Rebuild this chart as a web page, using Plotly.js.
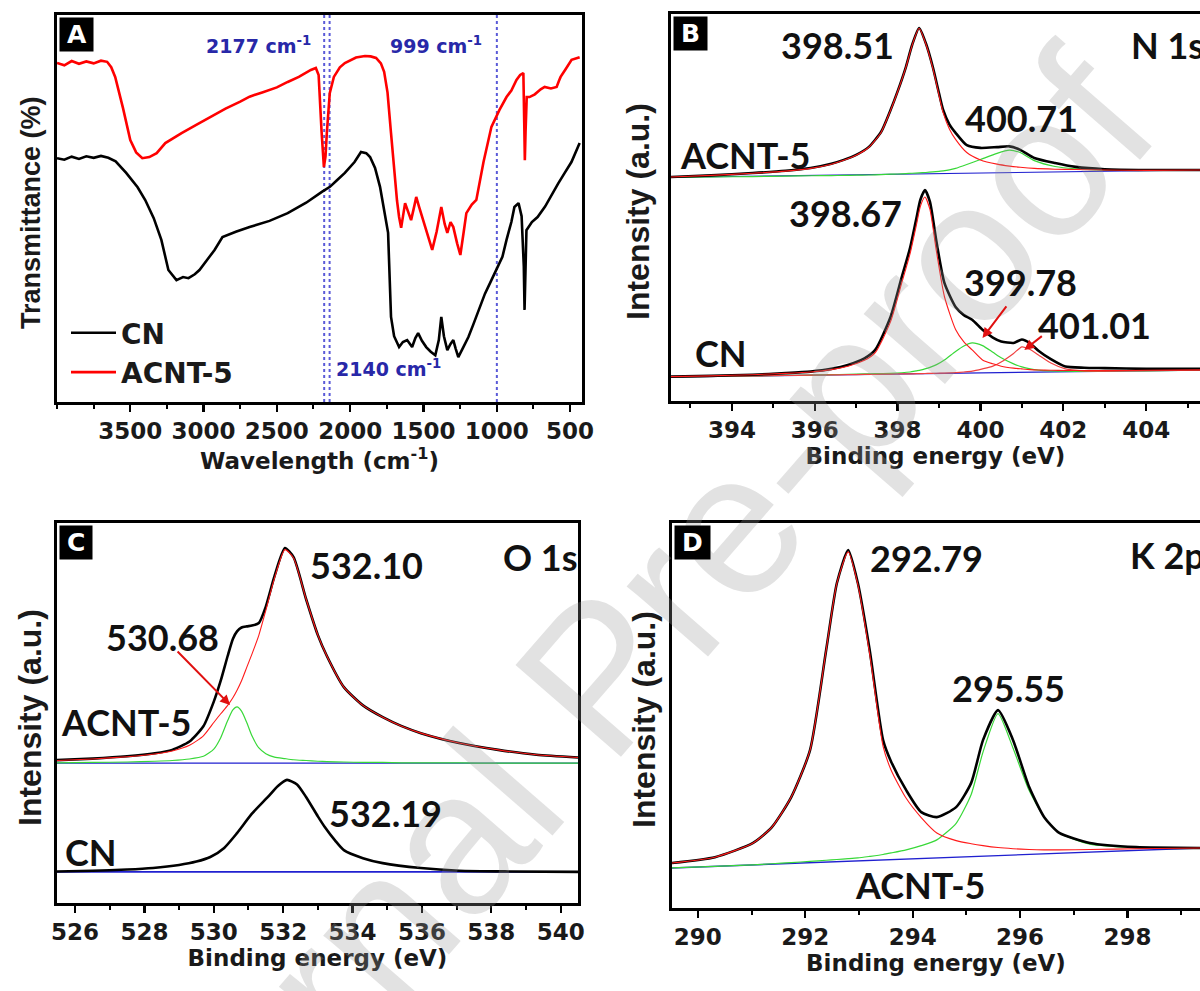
<!DOCTYPE html>
<html><head><meta charset="utf-8">
<script src="https://cdn.plot.ly/plotly-3.0.1.min.js"></script>
<style>html,body{margin:0;padding:0;background:#fff}#chart{width:1200px;height:991px}</style>
</head><body><div id="chart"></div>
<script>
// ---------- Panel A : FTIR ----------
const ftirWaveCN = [4000,3950,3900,3850,3800,3750,3700,3650,3600,3528,3450,3398,3340,3288,3240,3185,3140,3103,3060,3028,2970,2925,2871,2780,2686,2550,2426,2300,2193,2138,2090,2036,1970,1926,1890,1864,1830,1796,1770,1741,1721,1700,1666,1640,1611,1590,1577,1555,1536,1510,1481,1450,1419,1395,1378,1360,1337,1315,1296,1280,1262,1230,1193,1160,1118,1080,1036,1000,961,933,900,879,851,830,815,810,805,797,760,721,670,619,580,536,490,434];
const ftirCN = [63.0,62.6,63.4,62.8,63.5,63.1,63.6,63.1,62.2,59.2,55.5,52.2,47.5,41.9,34.1,31.5,32.3,32.0,33.0,34.1,37.0,39.3,42.6,44.0,45.2,46.8,48.8,51.5,54.3,55.6,57.3,59.2,62.0,64.6,64.3,63.3,60.5,55.6,50.0,43.7,22.0,17.0,14.2,15.5,16.0,14.8,14.2,16.5,17.8,15.8,14.2,13.0,12.1,16.0,22.0,17.0,13.4,15.0,16.0,13.8,11.6,14.0,16.8,20.0,24.5,28.0,31.5,34.5,37.5,41.9,46.5,50.4,51.4,48.0,35.0,23.8,33.0,44.4,46.5,47.8,50.5,54.0,56.5,59.2,62.0,66.9];
const ftirWaveACNT = [4000,3950,3900,3850,3800,3750,3700,3658,3630,3603,3550,3500,3460,3418,3370,3320,3261,3150,3050,2953,2850,2750,2686,2600,2500,2426,2350,2268,2234,2215,2207,2195,2179,2168,2159,2139,2111,2070,2036,1960,1899,1860,1823,1790,1768,1745,1721,1700,1680,1666,1652,1625,1605,1584,1560,1549,1530,1508,1470,1440,1410,1378,1355,1337,1315,1296,1270,1248,1225,1207,1170,1139,1090,1036,981,933,900,865,840,818,812,808,803,795,776,740,700,673,630,591,575,564,530,489,434];
const ftirACNT = [87.6,87.0,88.1,87.4,88.0,87.5,88.2,87.9,86.5,84.0,76.0,67.7,64.5,63.0,63.3,64.3,66.9,69.5,71.6,73.6,75.8,77.6,78.9,80.0,81.3,82.7,84.0,85.8,86.3,84.5,78.3,70.0,60.7,63.5,69.5,79.8,84.0,86.5,87.6,89.0,89.4,89.3,88.9,87.5,85.3,80.0,69.5,60.0,52.0,47.8,45.0,51.4,49.5,47.0,51.0,53.0,50.5,47.8,43.0,39.3,44.0,50.4,46.0,43.7,46.5,45.2,41.0,38.0,44.0,48.8,51.0,52.2,62.0,71.1,75.5,78.8,80.5,83.2,84.5,85.0,72.0,62.5,70.0,78.8,78.8,79.5,80.8,81.4,81.0,81.4,83.0,84.0,86.0,88.4,89.1];
const ftirMarkedBands = [2177, 2140, 999];
const ftirBandLabels = ['2177 cm<sup>-1</sup>', '2140 cm<sup>-1</sup>', '999 cm<sup>-1</sup>'];
const ftirTickVals = [3500,3000,2500,2000,1500,1000,500];

// ---------- Panel B : N 1s ----------
const n1sAcntE = [392.53,393.5,394.5,395.3,395.9,396.4,396.7,397.0,397.3,397.6,397.83,398.0,398.2,398.35,398.52,398.68,398.85,399.0,399.1,399.25,399.4,399.67,400.0,400.4,400.7,400.96,401.3,401.8,402.3,403.0,404.0,405.3];
const n1sAcntRaw = [57.9,58.3,58.9,59.5,60.2,61.3,62.3,63.6,65.6,69.5,75.2,80.0,86.3,92.0,96.4,92.5,86.3,79.5,75.2,71.5,69.3,66.1,65.4,65.6,65.8,64.9,62.8,61.5,60.5,59.9,59.7,59.7];
const n1sAcnt398 = [57.9,58.3,58.85,59.4,60.1,61.2,62.2,63.5,65.5,69.4,75.1,79.9,86.2,91.9,96.3,92.3,86.0,79.0,74.5,70.3,67.6,64.2,62.3,61.2,60.7,60.4,60.1,59.9,59.8,59.7,59.6,59.7];
const n1sAcnt400 = [57.8,57.9,58.0,58.1,58.2,58.25,58.3,58.35,58.4,58.5,58.6,58.65,58.75,58.85,58.95,59.05,59.2,59.35,59.45,59.7,60.1,61.1,62.4,64.0,64.8,64.2,62.1,60.6,60.0,59.7,59.6,59.7];
const n1sAcntBaseE = [392.53, 405.3];
const n1sAcntBase = [57.8, 59.7];

const n1sCnE = [392.53,393.5,394.5,395.3,395.9,396.4,396.8,397.2,397.46,397.83,398.1,398.3,398.45,398.55,398.66,398.78,398.94,399.13,399.4,399.6,399.8,400.05,400.3,400.5,400.8,401.0,401.2,401.4,401.7,402.05,402.5,403.0,404.0,405.3];
const n1sCnRaw = [6.3,6.5,6.8,7.2,7.6,8.3,9.3,11.0,13.2,21.7,32.0,39.5,47.0,52.0,54.5,51.5,41.0,30.5,24.3,22.2,21.0,18.4,16.4,15.4,15.0,15.9,14.9,13.0,10.8,8.9,8.6,8.5,8.3,8.3];
const n1sCn398 = [6.3,6.5,6.8,7.15,7.5,8.1,9.0,10.5,12.5,20.5,30.5,38.0,45.3,50.3,52.7,49.5,38.5,27.0,18.5,15.3,13.2,10.6,9.6,9.0,8.5,8.3,8.1,8.0,7.95,7.9,7.85,7.85,7.95,8.05];
const n1sCn399 = [6.2,6.35,6.5,6.6,6.7,6.8,6.9,7.0,7.05,7.15,7.3,7.5,7.8,8.0,8.3,8.7,9.4,10.6,12.8,14.2,15.0,14.3,12.6,11.2,9.6,8.8,8.3,8.0,7.8,7.7,7.65,7.7,7.8,8.0];
const n1sCn401 = [6.2,6.34,6.48,6.59,6.68,6.75,6.8,6.86,6.9,6.95,7.0,7.02,7.05,7.07,7.1,7.13,7.17,7.22,7.35,7.5,7.7,8.3,9.0,10.1,12.3,14.0,13.3,11.9,9.8,8.3,7.8,7.72,7.82,8.0];
const n1sCnBaseE = [392.53, 405.3];
const n1sCnBase = [6.2, 8.0];

// ---------- Panel C : O 1s ----------
const o1sAcntE = [525.48,526.5,527.5,528.3,528.8,529.3,529.7,530.0,530.2,530.4,530.55,530.67,530.8,530.95,531.1,531.3,531.5,531.75,532.05,532.3,532.66,533.0,533.26,533.75,534.3,534.87,535.4,535.97,537.07,538.2,539.3,540.5];
const o1sAcntRaw = [37.6,38.0,38.6,39.4,40.3,42.5,46.5,53.0,58.5,65.0,69.5,71.5,72.5,72.8,73.0,73.7,78.0,86.0,93.4,91.0,80.0,70.5,65.0,56.8,52.0,48.9,46.6,44.7,42.1,40.3,39.0,38.3];
const o1sAcnt532 = [37.5,37.9,38.5,39.2,40.0,41.5,44.0,47.5,49.8,52.0,54.0,56.0,58.5,62.0,65.5,70.5,77.0,85.5,93.0,90.8,80.0,70.5,65.0,56.8,52.0,48.9,46.6,44.7,42.1,40.3,39.0,38.3];
const o1sAcnt530 = [36.9,37.0,37.1,37.3,37.5,37.9,38.6,40.5,43.5,48.0,50.8,51.6,50.5,47.5,44.0,40.8,39.3,38.4,38.0,37.7,37.5,37.3,37.2,37.1,37.0,37.0,36.9,36.9,36.85,36.8,36.8,36.8];
const o1sAcntBaseE = [525.48, 540.5];
const o1sAcntBase = [36.8, 36.8];
const o1sCnE = [525.48,526.5,527.5,528.25,529.0,529.5,529.9,530.3,530.67,531.1,531.56,531.85,532.11,532.4,532.66,533.0,533.2,533.5,533.75,534.3,534.87,535.97,537.07,538.5,540.5];
const o1sCnRaw = [8.3,8.5,8.8,9.2,10.0,10.9,12.1,14.5,18.4,23.5,27.9,30.8,32.4,31.2,27.9,22.8,20.0,16.4,13.9,11.8,10.5,9.2,8.5,8.3,8.2];
const o1sCnBaseE = [525.48, 540.5];
const o1sCnBase = [8.2, 8.2];

// ---------- Panel D : K 2p ----------
const k2pE = [289.52,290.32,291.03,291.38,291.74,292.09,292.39,292.59,292.8,292.98,293.2,293.45,293.6,293.88,294.16,294.45,294.81,295.09,295.31,295.59,295.87,296.17,296.45,296.73,297.3,298.16,299.35];
const k2pRaw = [11.7,13.2,16.9,21.0,28.8,41.0,67.0,84.4,93.0,84.4,67.0,43.6,38.0,30.6,24.9,23.6,26.2,32.5,43.6,51.4,43.6,31.4,23.6,19.5,16.9,15.8,15.6];
const k2p292 = [11.7,13.2,16.9,21.0,28.8,41.0,67.0,84.4,92.5,84.0,66.0,42.0,35.8,28.5,23.5,19.5,17.5,16.7,16.2,15.7,15.4,15.2,15.1,15.1,15.2,15.4,15.6];
const k2p295 = [10.4,10.8,11.2,11.5,11.8,12.1,12.4,12.6,12.8,13.0,13.4,13.9,14.3,15.1,16.2,17.7,22.0,29.5,40.5,50.5,41.5,30.5,23.6,19.5,16.6,15.7,15.5];
const k2pBaseE = [289.52, 299.35];
const k2pBase = [10.4, 15.6];

// ---------- styling ----------
const FW = 'DejaVu Sans, Verdana, sans-serif';
const FT = 'Liberation Sans, Arial, sans-serif';
const FL = 'Lato, Carlito, sans-serif';
const BLACK = '#000000', RED = '#ff1a1a', GREEN = '#38d838', BLUE = '#2020d0', ORANGE = '#f04040';

function ln(x, y, xa, ya, color, width, name) {
  return {x: x, y: y, xaxis: xa, yaxis: ya, type: 'scatter', mode: 'lines',
    line: {color: color, width: width, shape: x.length > 2 ? 'spline' : 'linear', smoothing: 0.6},
    name: name, showlegend: false, hoverinfo: 'skip'};
}

const traces = [
  {x: ftirWaveCN, y: ftirCN, xaxis: 'x', yaxis: 'y', type: 'scatter', mode: 'lines', name: 'CN',
   line: {color: BLACK, width: 2.6}},
  {x: ftirWaveACNT, y: ftirACNT, xaxis: 'x', yaxis: 'y', type: 'scatter', mode: 'lines', name: 'ACNT-5',
   line: {color: '#ff0000', width: 2.6}},
  ln(n1sAcntBaseE, n1sAcntBase, 'x2', 'y2', BLUE, 1.2, 'baseline'),
  ln(n1sAcntE, n1sAcnt400, 'x2', 'y2', GREEN, 1.2, '400.71'),
  ln(n1sAcntE, n1sAcntRaw, 'x2', 'y2', BLACK, 2.6, 'ACNT-5 N 1s'),
  ln(n1sAcntE, n1sAcnt398, 'x2', 'y2', RED, 1.1, '398.51'),
  ln(n1sCnBaseE, n1sCnBase, 'x2', 'y2', BLUE, 1.2, 'baseline'),
  ln(n1sCnE, n1sCn399, 'x2', 'y2', GREEN, 1.2, '399.78'),
  ln(n1sCnE, n1sCn401, 'x2', 'y2', ORANGE, 1.2, '401.01'),
  ln(n1sCnE, n1sCnRaw, 'x2', 'y2', BLACK, 2.6, 'CN N 1s'),
  ln(n1sCnE, n1sCn398, 'x2', 'y2', RED, 1.1, '398.67'),
  ln(o1sAcntBaseE, o1sAcntBase, 'x3', 'y3', BLUE, 1.4, 'baseline'),
  ln(o1sAcntE, o1sAcnt530, 'x3', 'y3', GREEN, 1.2, '530.68'),
  ln(o1sAcntE, o1sAcntRaw, 'x3', 'y3', BLACK, 2.6, 'ACNT-5 O 1s'),
  ln(o1sAcntE, o1sAcnt532, 'x3', 'y3', RED, 1.1, '532.10'),
  ln(o1sCnBaseE, o1sCnBase, 'x3', 'y3', BLUE, 1.6, 'baseline'),
  ln(o1sCnE, o1sCnRaw, 'x3', 'y3', BLACK, 2.6, 'CN O 1s'),
  ln(k2pBaseE, k2pBase, 'x4', 'y4', BLUE, 1.4, 'baseline'),
  ln(k2pE, k2p295, 'x4', 'y4', GREEN, 1.2, '295.55'),
  ln(k2pE, k2pRaw, 'x4', 'y4', BLACK, 2.6, 'ACNT-5 K 2p'),
  ln(k2pE, k2p292, 'x4', 'y4', RED, 1.1, '292.79')
];

function xax(domain, range, dtick, minor, title, anchor, tickvals) {
  const a = {domain: domain, range: range, anchor: anchor, showline: true, linecolor: '#000', linewidth: 2.6,
    mirror: true, ticks: 'outside', ticklen: 7, tickwidth: 2.2, tickcolor: '#000', showgrid: false, zeroline: false,
    tickfont: {family: FW, size: 23, color: '#1a1a1a', weight: 'bold'},
    minor: {ticks: 'outside', ticklen: 4, tickwidth: 2, tickcolor: '#000', dtick: minor, showgrid: false},
    title: {text: title, font: {family: FW, size: 23, color: '#1a1a1a', weight: 'bold'}, standoff: 6}};
  if (tickvals) { a.tickmode = 'array'; a.tickvals = tickvals; } else { a.dtick = dtick; a.tick0 = 0; }
  return a;
}
function yax(domain, anchor, mirror) {
  return {domain: domain, range: [0, 100], anchor: anchor, showline: true, linecolor: '#000', linewidth: 2.6,
    mirror: mirror, ticks: '', showticklabels: false, showgrid: false, zeroline: false, fixedrange: true};
}

const W = 1200, H = 991;
const px = v => v / W, py = v => (H - v) / H;

const layout = {
  width: W, height: H, margin: {l: 0, r: 0, t: 0, b: 0}, paper_bgcolor: '#fff', plot_bgcolor: 'rgba(0,0,0,0)',
  showlegend: true,
  legend: {x: px(66), y: py(308), xanchor: 'left', yanchor: 'top', bgcolor: 'rgba(0,0,0,0)',
    font: {family: FW, size: 28, color: '#1a1a1a', weight: 'bold'}, itemwidth: 45, tracegroupgap: 0},
  xaxis: xax([px(57), px(582)], [4000, 418], null, 250, 'Wavelength (cm<sup>-1</sup>)', 'y', ftirTickVals),
  yaxis: yax([py(402), py(15)], 'x', true),
  xaxis2: xax([px(671), 1], [392.53, 405.3], 2, 1, 'Binding energy (eV)', 'y2'),
  yaxis2: yax([py(401), py(14)], 'x2', false),
  xaxis3: xax([px(57), px(578)], [525.48, 540.5], 2, 1, 'Binding energy (eV)', 'y3'),
  yaxis3: yax([py(903), py(523)], 'x3', true),
  xaxis4: xax([px(672), 1], [289.52, 299.35], 2, 1, 'Binding energy (eV)', 'y4'),
  yaxis4: yax([py(908), py(523)], 'x4', false),
  shapes: ftirMarkedBands.map(b => ({type: 'line', xref: 'x', yref: 'y domain', x0: b, x1: b, y0: 0, y1: 1,
    line: {color: '#5a5ad8', width: 2, dash: 'dot'}, layer: 'below'})),
  annotations: []
};
const ann = layout.annotations;
// watermark
ann.push({text: 'Journal Pre-proof', xref: 'paper', yref: 'paper', x: px(597), y: py(676), textangle: -49,
  xanchor: 'center', yanchor: 'middle', showarrow: false,
  font: {family: FT, size: 203, color: 'rgba(150,150,150,0.28)'}});
// panel letters
[['A','x','y'],['B','x2','y2'],['C','x3','y3'],['D','x4','y4']].forEach(([t, xa, ya]) => {
  ann.push({text: '<b>\u2009' + t + '\u2009</b>', xref: xa + ' domain', yref: ya + ' domain', x: 0.003, y: 0.995,
    xanchor: 'left', yanchor: 'top', showarrow: false, bgcolor: '#000', borderpad: 2,
    font: {family: FW, size: 25, color: '#fff'}});
});
// y titles
function ytitle(text, x, y, size) {
  ann.push({text: '<b>' + text + '</b>', xref: 'paper', yref: 'paper', x: px(x), y: py(y), textangle: -90,
    xanchor: 'center', yanchor: 'middle', showarrow: false, font: {family: FT, size: size, color: '#1a1a1a'}});
}
ytitle('Transmittance (%)', 31, 213, 27);
ytitle('Intensity (a.u.)', 638, 212, 32);
ytitle('Intensity (a.u.)', 30, 718, 32);
ytitle('Intensity (a.u.)', 644, 720, 32);
// FTIR band labels
function blue(text, x, y) {
  ann.push({text: '<b>' + text + '</b>', xref: 'x', yref: 'y', x: x, y: y, showarrow: false,
    xanchor: 'center', yanchor: 'middle', font: {family: FW, size: 19, color: '#2828a8'}});
}
blue(ftirBandLabels[0], 2623, 92.2);
blue(ftirBandLabels[2], 1416, 92.2);
blue(ftirBandLabels[1], 1737, 8.8);
// XPS labels
function lab(text, xa, ya, x, y, anchor) {
  ann.push({text: '<b>' + text + '</b>', xref: xa, yref: ya, x: x, y: y, xanchor: anchor || 'center',
    yanchor: 'middle', showarrow: false, font: {family: FL, size: 36, color: '#111'}});
}
lab('398.51', 'x2', 'y2', 396.55, 92);
lab('N 1s', 'x2', 'y2', 403.59, 92, 'left');
lab('400.71', 'x2', 'y2', 400.99, 73.1);
lab('ACNT-5', 'x2', 'y2', 394.34, 63.6);
lab('398.67', 'x2', 'y2', 396.75, 48.6);
lab('399.78', 'x2', 'y2', 400.96, 30.7);
lab('401.01', 'x2', 'y2', 402.75, 19.6);
lab('CN', 'x2', 'y2', 393.73, 12.4);
lab('532.10', 'x3', 'y3', 534.41, 88.9);
lab('O 1s', 'x3', 'y3', 539.43, 91);
lab('530.68', 'x3', 'y3', 528.51, 70);
lab('ACNT-5', 'x3', 'y3', 527.47, 47.6);
lab('532.19', 'x3', 'y3', 534.96, 23.7);
lab('CN', 'x3', 'y3', 526.46, 13.4);
lab('292.79', 'x4', 'y4', 294.25, 90.9);
lab('K 2p', 'x4', 'y4', 298.01, 91.7, 'left');
lab('295.55', 'x4', 'y4', 295.78, 57.1);
lab('ACNT-5', 'x4', 'y4', 294.14, 6.0);
// red arrows
function arrow(xa, ya, x, y, ax, ay) {
  ann.push({text: '', xref: xa, yref: ya, x: x, y: y, ax: ax, ay: ay, showarrow: true,
    arrowcolor: '#e01010', arrowwidth: 2, arrowhead: 2, arrowsize: 1});
}
arrow('x3', 'y3', 530.47, 52.1, -54, -55);
arrow('x2', 'y2', 400.05, 16.3, 25, -33);
arrow('x2', 'y2', 401.06, 13.2, 19, -15);

Plotly.newPlot('chart', traces, layout, {displayModeBar: false, staticPlot: true});
</script></body></html>
